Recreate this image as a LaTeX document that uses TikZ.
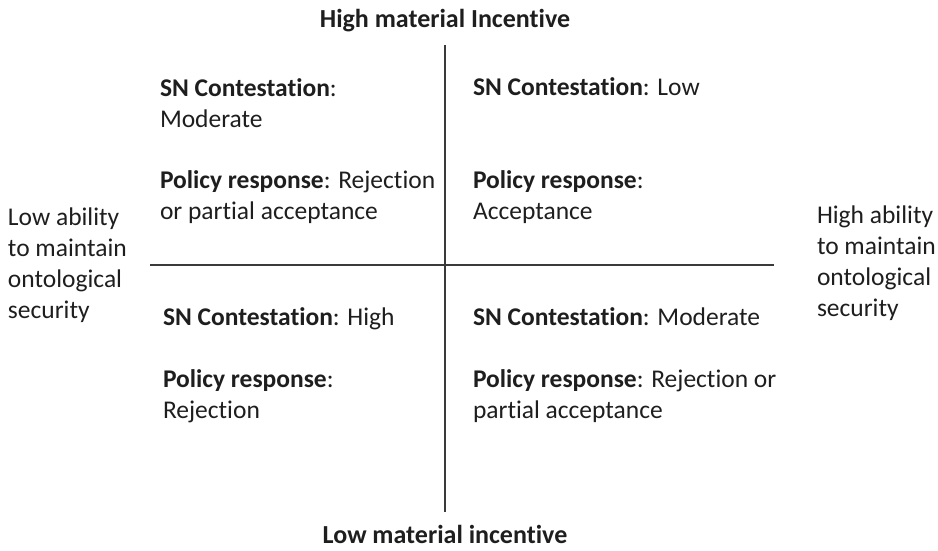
\documentclass[tikz,border=0pt]{standalone}
\usepackage{fontspec}
\setmainfont{Carlito}[Ligatures=NoCommon]
\usepackage{xcolor}
\usetikzlibrary{positioning}

\definecolor{axisgray}{HTML}{3A3A3A}
\definecolor{textblack}{HTML}{1E1E1E}

\begin{document}
\begin{tikzpicture}[x=1pt,y=-1pt,
    every node/.style={inner sep=0pt,outer sep=0pt,text=textblack,
        font=\fontsize{25.5}{31}\selectfont},
    cell/.style={anchor=base west,align=left},
    side/.style={anchor=base west,align=left},
    axislabel/.style={anchor=base,font=\fontsize{26}{31}\selectfont\bfseries},
    axis/.style={line width=2.4pt,draw=axisgray}]
    \useasboundingbox (0,0) rectangle (938,550);

    % axes
    \coordinate (top) at (445,45);
    \coordinate (bottom) at (445,512);
    \coordinate (left) at (150,265);
    \coordinate (right) at (774,265);
    \draw[axis] (top) -- (bottom);
    \draw[axis] (left) -- (right);

    % axis labels (base = last line)
    \node[axislabel] (highmat) at (445,27) {High material Incentive};
    \node[axislabel] (lowmat) at (445,543) {Low material incentive};
    \node[side] (lowab) at (8,318) {Low ability\\to maintain\\ontological\\security};
    \node[side] (highab) at (817,316) {High ability\\to maintain\\ontological\\security};

    % quadrants
    \node[cell] (tlsn) at (160,127) {\textbf{SN Contestation}:\\Moderate};
    \node[cell] (tlpol) at (160,219) {\textbf{Policy response}: Rejection\\or partial acceptance};
    \node[cell] (trsn) at (473,95) {\textbf{SN Contestation}: Low};
    \node[cell] (trpol) at (473,219) {\textbf{Policy response}:\\Acceptance};
    \node[cell] (blsn) at (163,325) {\textbf{SN Contestation}: High};
    \node[cell] (blpol) at (163,418) {\textbf{Policy response}:\\Rejection};
    \node[cell] (brsn) at (473,325) {\textbf{SN Contestation}: Moderate};
    \node[cell] (brpol) at (473,418) {\textbf{Policy response}: Rejection or\\partial acceptance};
\end{tikzpicture}
\end{document}
